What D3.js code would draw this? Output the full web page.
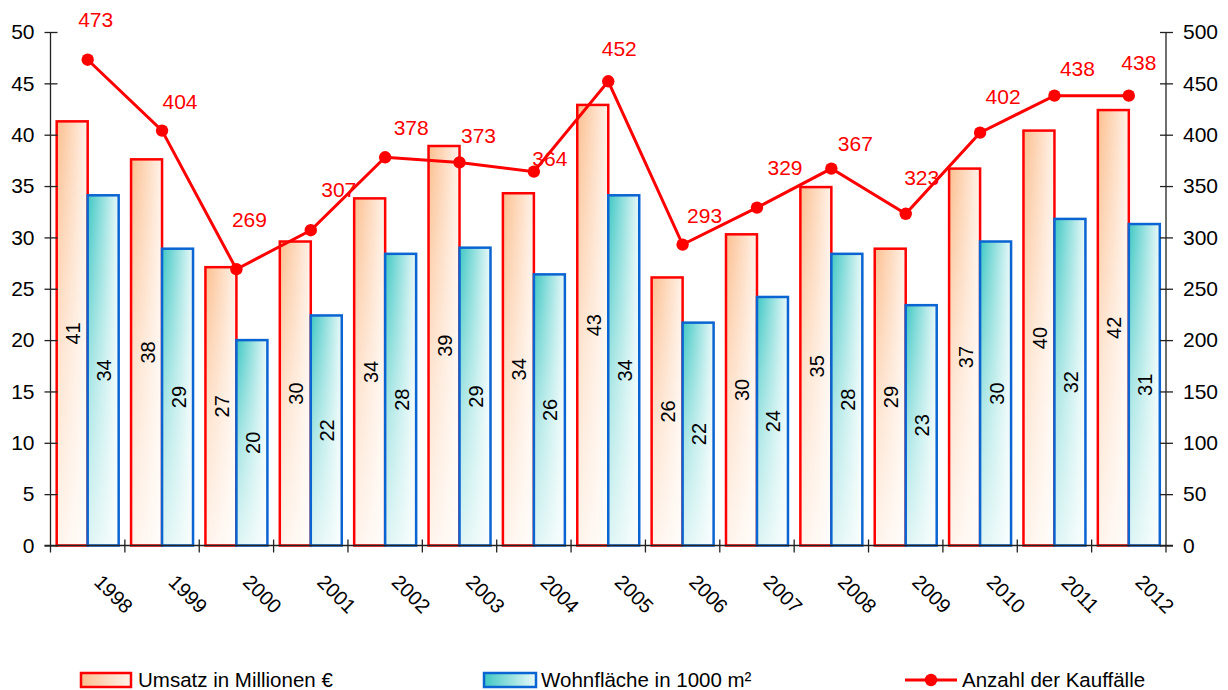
<!DOCTYPE html>
<html>
<head>
<meta charset="utf-8">
<script src="https://cdn.jsdelivr.net/npm/d3@7"></script>
<style>
  body { margin: 0; background: #fff; }
  svg { display: block; font-family: "Liberation Sans", Arial, sans-serif; }
</style>
</head>
<body>
<svg id="chart" width="1228" height="690"></svg>
<script>
// Years and series
const years = ["1998","1999","2000","2001","2002","2003","2004","2005","2006","2007","2008","2009","2010","2011","2012"];
const umsatz = [41.3, 37.6, 27.1, 29.6, 33.8, 38.9, 34.3, 42.9, 26.1, 30.3, 34.9, 28.9, 36.7, 40.4, 42.4];
const wohnflaeche = [34.1, 28.9, 20.0, 22.4, 28.4, 29.0, 26.4, 34.1, 21.7, 24.2, 28.4, 23.4, 29.6, 31.8, 31.3];
const kauffaelle = [473, 404, 269, 307, 378, 373, 364, 452, 293, 329, 367, 323, 402, 438, 438];

// Axis ticks
const leftTicks = [0, 5, 10, 15, 20, 25, 30, 35, 40, 45, 50];
const rightTicks = [0, 50, 100, 150, 200, 250, 300, 350, 400, 450, 500];

// Legend entries
const seriesNames = ["Umsatz in Millionen €", "Wohnfläche in 1000 m²", "Anzahl der Kauffälle"];

// Placement of the count labels relative to their points (dx, dy)
const countLabelOffsets = [[8,-40],[18,-29],[13,-50],[28,-41],[26,-30],[19,-27],[16,-13],[11,-33],[22,-29],[28,-40],[24,-25],[16,-36],[23,-36],[23,-27],[10,-33]];

const svg = d3.select("#chart");
const plotLeft = 50.5, plotRight = 1166, plotTop = 32, plotBottom = 545.5;

const x = d3.scaleBand().domain(years).range([plotLeft, plotRight]).padding(0);
const inner = d3.scaleBand().domain(["u", "w"]).range([0, x.bandwidth()]).paddingInner(0).paddingOuter(0.2);
const yL = d3.scaleLinear().domain([0, 50]).range([plotBottom, plotTop]);
const yR = d3.scaleLinear().domain([0, 500]).range([plotBottom, plotTop]);

// Gradients
const defs = svg.append("defs");
function hGrad(id, c0, c1) {
  const g = defs.append("linearGradient").attr("id", id).attr("x1", 0).attr("y1", 0).attr("x2", 1).attr("y2", 0);
  g.append("stop").attr("offset", "0%").attr("stop-color", c0);
  g.append("stop").attr("offset", "100%").attr("stop-color", c1);
}
hGrad("gradRed", "#fcbf8f", "#fff3ea");
hGrad("gradBlue", "#3fc8c4", "#eaf9f9");
const fade = defs.append("linearGradient").attr("id", "fadeWhite").attr("x1", 0).attr("y1", 0).attr("x2", 0).attr("y2", 1);
fade.append("stop").attr("offset", "0%").attr("stop-color", "#fff").attr("stop-opacity", 0);
fade.append("stop").attr("offset", "55%").attr("stop-color", "#fff").attr("stop-opacity", 0.55);
fade.append("stop").attr("offset", "100%").attr("stop-color", "#fff").attr("stop-opacity", 0.82);

// Bars
const barSeries = [
  { key: "u", values: umsatz, fill: "url(#gradRed)", stroke: "#ff0000" },
  { key: "w", values: wohnflaeche, fill: "url(#gradBlue)", stroke: "#0a64d2" }
];
barSeries.forEach(s => {
  const g = svg.append("g");
  const data = years.map((yr, i) => ({ yr, v: s.values[i] }));
  const bx = d => x(d.yr) + inner(s.key);
  const bw = inner.bandwidth();
  g.selectAll("rect.base").data(data).join("rect").attr("class", "base")
    .attr("x", bx).attr("y", d => yL(d.v)).attr("width", bw).attr("height", d => plotBottom - yL(d.v))
    .attr("fill", s.fill);
  g.selectAll("rect.fade").data(data).join("rect").attr("class", "fade")
    .attr("x", bx).attr("y", d => yL(d.v)).attr("width", bw).attr("height", d => plotBottom - yL(d.v))
    .attr("fill", "url(#fadeWhite)");
  g.selectAll("rect.edge").data(data).join("rect").attr("class", "edge")
    .attr("x", bx).attr("y", d => yL(d.v)).attr("width", bw).attr("height", d => plotBottom - yL(d.v))
    .attr("fill", "none").attr("stroke", s.stroke).attr("stroke-width", 2.5);
  g.selectAll("text").data(data).join("text")
    .attr("transform", d => `translate(${bx(d) + bw / 2 + 1},${(yL(d.v) + plotBottom) / 2}) rotate(-90)`)
    .attr("text-anchor", "middle").attr("dominant-baseline", "central")
    .attr("font-size", 20).attr("fill", "#000")
    .text(d => Math.round(d.v));
});

// Axes
const axisColor = "#222";
const lAxis = svg.append("g").attr("transform", `translate(${plotLeft},0)`)
  .call(d3.axisLeft(yL).tickValues(leftTicks).tickSize(6).tickPadding(10));
lAxis.selectAll(".tick line").attr("x2", 7).attr("x1", -6);
const rAxis = svg.append("g").attr("transform", `translate(${plotRight},0)`)
  .call(d3.axisRight(yR).tickValues(rightTicks).tickSize(7).tickPadding(10));
rAxis.selectAll(".tick line").attr("x1", -6).attr("x2", 7);
[lAxis, rAxis].forEach(a => {
  a.select(".domain").remove();
  a.append("line").attr("x1", 0).attr("x2", 0).attr("y1", plotTop).attr("y2", plotBottom + 7).attr("stroke", axisColor).attr("stroke-width", 1.3);
  a.selectAll(".tick line").attr("stroke", axisColor).attr("stroke-width", 1.3);
  a.selectAll(".tick text").attr("font-size", 21).attr("fill", "#000")
    .attr("font-family", "'Liberation Sans', Arial, sans-serif");
});

// Baseline and category separators
svg.append("line").attr("x1", plotLeft - 6).attr("x2", plotRight + 7).attr("y1", plotBottom).attr("y2", plotBottom)
  .attr("stroke", axisColor).attr("stroke-width", 1.3);
svg.append("g").selectAll("line").data(years.slice(1)).join("line")
  .attr("x1", d => x(d)).attr("x2", d => x(d)).attr("y1", plotBottom - 6).attr("y2", plotBottom + 7)
  .attr("stroke", axisColor).attr("stroke-width", 1.3);

// Category labels
svg.append("g").selectAll("text").data(years).join("text")
  .attr("transform", d => `translate(${x(d) + x.bandwidth() / 2 + 26},594) rotate(45)`)
  .attr("text-anchor", "middle").attr("dominant-baseline", "central")
  .attr("font-size", 20).attr("fill", "#000").text(d => d);

// Count line
const cx = (d, i) => x(years[i]) + x.bandwidth() / 2;
const line = d3.line().x((d, i) => cx(d, i)).y(d => yR(d));
svg.append("path").datum(kauffaelle).attr("d", line)
  .attr("fill", "none").attr("stroke", "#ff0000").attr("stroke-width", 3);
svg.append("g").selectAll("circle").data(kauffaelle).join("circle")
  .attr("cx", cx).attr("cy", d => yR(d)).attr("r", 6.2).attr("fill", "#ff0000");
svg.append("g").selectAll("text").data(kauffaelle).join("text")
  .attr("x", (d, i) => cx(d, i) + countLabelOffsets[i][0])
  .attr("y", (d, i) => yR(d) + countLabelOffsets[i][1])
  .attr("text-anchor", "middle").attr("dominant-baseline", "central")
  .attr("font-size", 21).attr("fill", "#ff0000").text(d => d);

// Legend
const lg = svg.append("g");
const ly = 680;
const legendFont = 20.5;
lg.append("rect").attr("x", 81).attr("y", ly - 7).attr("width", 50).attr("height", 14)
  .attr("fill", "url(#gradRed)").attr("stroke", "#ff0000").attr("stroke-width", 2.5);
lg.append("text").attr("x", 138).attr("y", ly + 7).attr("font-size", legendFont).text(seriesNames[0]);
lg.append("rect").attr("x", 484).attr("y", ly - 7).attr("width", 52).attr("height", 14)
  .attr("fill", "url(#gradBlue)").attr("stroke", "#0a64d2").attr("stroke-width", 2.5);
lg.append("text").attr("x", 541).attr("y", ly + 7).attr("font-size", legendFont).text(seriesNames[1]);
lg.append("line").attr("x1", 905).attr("x2", 957).attr("y1", ly).attr("y2", ly)
  .attr("stroke", "#ff0000").attr("stroke-width", 3);
lg.append("circle").attr("cx", 931).attr("cy", ly).attr("r", 6.2).attr("fill", "#ff0000");
lg.append("text").attr("x", 962).attr("y", ly + 7).attr("font-size", legendFont).text(seriesNames[2]);
</script>
</body>
</html>
